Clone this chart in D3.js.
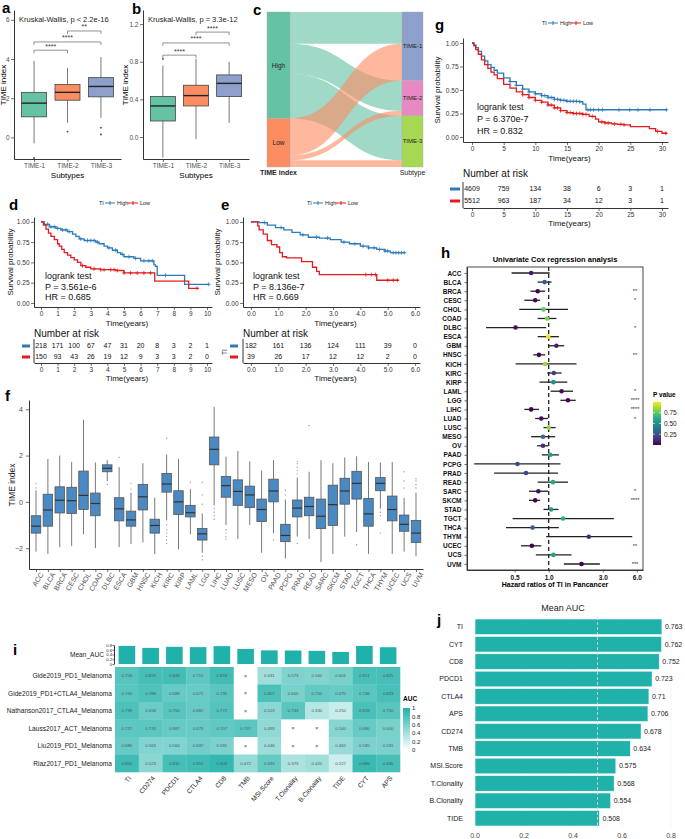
<!DOCTYPE html>
<html><head><meta charset="utf-8">
<script src="https://cdn.jsdelivr.net/npm/d3@7"></script>
<style>body{margin:0;background:#fff}svg{display:block}</style>
</head><body><svg id="c" width="685" height="839"></svg>
<script>
// ================= DATA =================
const subtypes = ["TIME-1","TIME-2","TIME-3"];
// [lower whisker, q1, median, q3, upper whisker]
const aStats = [[-0.3,1.05,1.75,2.3,3.9],[0.75,1.9,2.3,2.7,3.55],[1.0,2.07,2.6,3.05,4.1]];
const aOutliers = [[-1.05],[0.3],[0.5,0.15]];
const aBrackets = [[0,1,4.45,"****"],[0,2,4.87,"****"],[1,2,5.43,"**"]];
const aTicks = [0,2,4,6];
const bStats = [[-0.22,0.17,0.33,0.43,0.76],[-0.02,0.33,0.44,0.55,0.83],[0.15,0.43,0.57,0.66,0.8]];
const bOutliers = [[0.83],[],[]];
const bBrackets = [[0,1,0.87,"****"],[0,2,1.0,"****"],[1,2,1.115,"****"]];
const bTicks = [0,0.4,0.8,1.2];

const alluvialSources = ["High","Low"];
const alluvialTargets = ["TIME-1","TIME-2","TIME-3"];
const alluvialCounts = [[95,90,133],[110,15,20]];

const kmGroups = ["High","Low"];
// step points [time, survival]
const gHigh = [[0,1],[0.3,0.98],[0.6,0.95],[1,0.91],[1.5,0.86],[2,0.81],[2.5,0.77],[3,0.74],[3.5,0.71],[4,0.68],[5,0.63],[6,0.59],[7,0.55],[8,0.51],[9,0.48],[10,0.46],[11,0.44],[12,0.42],[13,0.40],[14,0.39],[15,0.38],[17,0.375],[17.5,0.35],[18,0.29],[30.8,0.29]];
const gLow = [[0,1],[0.3,0.97],[0.6,0.93],[1,0.88],[1.5,0.82],[2,0.77],[2.5,0.73],[3,0.69],[3.5,0.66],[4,0.62],[5,0.56],[6,0.52],[7,0.48],[8,0.45],[9,0.42],[10,0.39],[11,0.37],[12,0.34],[13,0.31],[14,0.28],[15,0.26],[16,0.25],[17.5,0.24],[18.5,0.22],[19.5,0.19],[20,0.16],[21,0.15],[22,0.14],[23,0.135],[24,0.13],[25,0.11],[28,0.09],[29,0.06],[30,0.04],[30.8,0.04]];
const gHighCensor = [6,7,8,9,10,11,11.5,12,12.5,13,13.5,14,14.5,15,15.5,16,16.5,17,18.3,18.7,19.2,20,20.6,23.2,24.9,26.2,28.1,30.7];
const gLowCensor = [8,9,10,11,12,12.5,13,13.5,14,15,15.5,16,16.5,17,17.5,18,19,20.5,21,21.5,22.5,23.5,24,29.3,30.6];
const gRiskTimes = [0,5,10,15,20,25,30];
const gRiskHigh = [4609,759,134,38,6,3,1];
const gRiskLow = [5512,963,187,34,12,3,1];
const gStats = ["logrank test","P = 6.370e-7","HR = 0.832"];

const dHigh = [[0,1],[0.2,0.97],[0.5,0.94],[0.9,0.92],[1.2,0.9],[1.6,0.88],[1.9,0.85],[2.1,0.82],[2.3,0.79],[2.6,0.77],[3.3,0.75],[3.5,0.73],[3.8,0.70],[4.0,0.68],[4.3,0.65],[4.6,0.62],[4.8,0.60],[5.0,0.57],[5.6,0.55],[6.0,0.52],[6.8,0.47],[6.9,0.45],[7.0,0.34],[8.65,0.23],[10.1,0.23]];
const dLow = [[0,1],[0.15,0.96],[0.3,0.91],[0.45,0.86],[0.6,0.82],[0.8,0.78],[1.0,0.73],[1.1,0.7],[1.25,0.66],[1.4,0.62],[1.6,0.59],[1.8,0.56],[2.0,0.53],[2.2,0.5],[2.4,0.46],[2.7,0.44],[3.0,0.42],[3.6,0.41],[4.5,0.4],[5.0,0.37],[6.85,0.27],[8.9,0.18],[9.5,0.18]];
const dHighCensor = [0.4,0.6,0.8,1.0,1.3,1.5,1.7,2.4,2.8,3.0,3.2,3.4,4.1,4.5,4.9,5.3,5.7,6.2,6.5,6.7,7.5,10.1];
const dLowCensor = [2.5,3.2,3.6,3.8,4.2,4.4,4.6,5.0,5.4,5.8,6.2,6.6,9.4];
const dRiskTimes = [0,1,2,3,4,5,6,7,8,9,10];
const dRiskHigh = [218,171,100,67,47,31,20,8,3,2,1];
const dRiskLow = [150,93,43,26,19,12,9,3,3,2,0];
const dStatsText = ["logrank test","P = 3.561e-6","HR = 0.685"];

const eHigh = [[0,1],[0.3,0.99],[0.6,0.96],[0.9,0.93],[1.2,0.9],[1.5,0.87],[1.8,0.84],[2.1,0.81],[2.5,0.8],[2.9,0.78],[3.3,0.75],[3.6,0.73],[4.0,0.7],[4.3,0.68],[4.6,0.66],[4.9,0.64],[5.1,0.62],[5.65,0.62]];
const eLow = [[0,1],[0.25,0.95],[0.3,0.9],[0.45,0.85],[0.6,0.77],[0.75,0.72],[0.95,0.69],[1.05,0.62],[1.15,0.57],[1.3,0.555],[1.85,0.51],[2.25,0.44],[2.4,0.39],[2.5,0.35],[4.6,0.28],[5.4,0.28]];
const eHighCensor = [0.5,1.1,1.9,2.4,2.8,3.4,3.8,4.1,4.3,4.5,4.7,4.9,5.0,5.2,5.3,5.4,5.5,5.6];
const eLowCensor = [4.2,4.4,4.55,5.0,5.2,5.35];
const eRiskTimes = [0,1,2,3,4,5,6];
const eRiskHigh = [182,161,136,124,111,39,0];
const eRiskLow = [39,26,17,12,12,2,0];
const eStatsText = ["logrank test","P = 8.136e-7","HR = 0.669"];

const cancers = ["ACC","BLCA","BRCA","CESC","CHOL","COAD","DLBC","ESCA","GBM","HNSC","KICH","KIRC","KIRP","LAML","LGG","LIHC","LUAD","LUSC","MESO","OV","PAAD","PCPG","PRAD","READ","SARC","SKCM","STAD","TGCT","THCA","THYM","UCEC","UCS","UVM"];
const fStats = [[-2.15,-1.35,-1.05,-0.6,0.5],[-2.25,-1.05,-0.35,0.33,1.85],[-1.95,-0.48,0.07,0.65,2.0],[-1.9,-0.5,0.05,0.63,1.72],[-1.4,-0.33,0.28,1.33,3.55],[-2.0,-0.6,-0.07,0.38,1.7],[0.9,1.3,1.45,1.6,1.8],[-1.95,-0.82,-0.3,0.18,1.5],[-1.82,-1.05,-0.78,-0.4,0.4],[-1.75,-0.35,0.22,0.75,1.67],[-2.25,-1.35,-1.02,-0.75,0.18],[-0.8,0.42,0.77,1.23,2.05],[-2.05,-0.55,0.0,0.48,1.85],[-1.4,-0.65,-0.47,-0.15,0.55],[-2.2,-1.65,-1.38,-1.15,-0.5],[-0.15,1.6,2.27,2.8,4.1],[-1.0,0.2,0.7,1.1,1.95],[-1.6,-0.15,0.45,0.95,2.2],[-1.0,-0.25,0.3,0.68,1.75],[-2.2,-0.85,-0.33,0.12,1.35],[-1.35,0.0,0.47,0.98,1.8],[-2.45,-1.72,-1.45,-0.97,0.1],[-1.5,-0.65,-0.27,0.08,1.05],[-1.6,-0.6,-0.2,0.2,1.3],[-2.6,-1.15,-0.62,0.12,1.8],[-2.25,-1.02,-0.12,0.72,1.67],[-1.5,-0.1,0.47,1.02,1.92],[-1.3,0.12,0.8,1.32,1.97],[-2.25,-1.05,-0.52,0.15,1.72],[-0.3,0.48,0.8,1.05,1.7],[-2.25,-0.82,-0.33,0.25,1.72],[-2.15,-1.27,-0.97,-0.57,0.17],[-2.35,-1.75,-1.35,-0.8,0.4]];
const fOutliers = [[0.6,0.8],[],[],[],[],[],[0.75],[1.92],[0.55,0.8],[],[],[2.75,-1.0,-1.2,-1.35,-1.5,-1.65,-1.8],[],[0.85],[-2.35,-2.5,0.3,0.85,-0.1],[-0.3,-0.45,-0.6,-0.75],[-1.2,-1.35,-1.5,-1.6],[],[],[],[-1.65],[0.3,0.5],[1.2,1.35,1.5,1.65,1.75,-1.8],[3.3],[],[],[],[-1.85],[],[-0.45,-0.6,-1.35],[],[0.6,0.9,1.3],[0.6,0.75,0.9,1.0]];
const fTicks = [-2,0,2,4];

const hHR =   [0.70,0.92,0.80,0.76,0.90,0.97,0.51,0.99,1.17,0.82,0.93,1.11,1.10,1.30,1.48,0.70,0.86,1.00,0.89,0.89,1.03,0.53,0.63,1.09,0.81,0.76,1.05,1.34,0.72,2.26,0.71,1.10,1.95];
const hLow =  [0.47,0.80,0.69,0.61,0.55,0.80,0.28,0.80,0.99,0.73,0.51,0.97,0.83,1.04,1.27,0.61,0.76,0.90,0.70,0.79,0.87,0.22,0.33,0.80,0.67,0.67,0.90,0.48,0.42,0.95,0.57,0.77,1.36];
const hHigh = [1.02,1.06,0.93,0.84,1.48,1.17,0.95,1.23,1.37,0.93,1.76,1.30,1.46,1.64,1.73,0.82,0.99,1.15,1.14,0.99,1.23,1.27,1.21,1.48,0.99,0.84,1.22,3.76,1.23,5.46,0.86,1.59,2.83];
const hP =    [0.07,0.3,0.005,0.02,0.75,0.8,0.03,0.97,0.08,0.004,0.85,0.18,0.5,0.03,0.00001,0.00002,0.03,0.82,0.35,0.12,0.58,0.22,0.2,0.6,0.04,0.00003,0.55,0.62,0.3,0.12,0.003,0.58,0.0005];
const hSig =  ["","","**","*","","","*","","","**","","","","*","****","****","*","","","","","","","","*","****","","","","","**","","***"];
const hTicks = [0.5,1,3,6];
const pTicks = [0.25,0.5,0.75];

const iRows = ["Gide2019_PD1_Melanoma","Gide2019_PD1+CTLA4_Melanoma","Nathanson2017_CTLA4_Melanoma","Lauss2017_ACT_Melanoma","Liu2019_PD1_Melanoma","Riaz2017_PD1_Melanoma"];
const iCols = ["TI","CD274","PDCD1","CTLA4","CD8","TMB","MSI.Score","T.Clonality","B.Clonality","TIDE","CYT","APS"];
const iValues = [
 [0.758,0.829,0.849,0.715,0.859,null,0.431,0.573,0.560,0.601,0.821,0.825],
 [0.740,0.788,0.688,0.671,0.736,null,0.807,0.600,0.700,0.675,0.746,0.823],
 [0.798,0.658,0.750,0.682,0.772,null,0.523,0.743,0.330,0.250,0.818,0.750],
 [0.727,0.733,0.687,0.673,0.707,0.737,0.493,null,null,0.540,0.680,0.600],
 [0.686,0.563,0.564,0.637,0.581,null,0.446,null,null,0.462,0.585,0.591],
 [0.865,0.523,0.830,0.852,0.909,0.472,0.693,0.373,0.420,0.227,0.886,0.836]];
const aucTicks = [0,0.2,0.4,0.6,0.8,1];

const jFeatures = ["TI","CYT","CD8","PDCD1","CTLA4","APS","CD274","TMB","MSI.Score","T.Clonality","B.Clonality","TIDE"];
const jMeanAUC = [0.763,0.762,0.752,0.723,0.71,0.706,0.678,0.634,0.575,0.568,0.554,0.508];
const jTicks = [0,0.2,0.4,0.6,0.8];

// ================= DRAWING =================
const svg = d3.select("#c");
const FONT = "'Liberation Sans', Arial, Helvetica, sans-serif";
svg.attr("font-family", FONT);
const set2 = ["#66C2A5","#FC8D62","#8DA0CB"];
const kmCol = ["#2b7bba","#e41a1c"];
const teal = "#20B2AA";

function T(g,x,y,s,o={}){
  const t=g.append("text").attr("x",x).attr("y",y).text(s)
    .attr("font-size",o.size||7).attr("fill",o.fill||"#000")
    .attr("text-anchor",o.anchor||"start");
  if(o.weight) t.attr("font-weight",o.weight);
  if(o.dy) t.attr("dy",o.dy);
  if(o.rotate!=null) t.attr("transform",`rotate(${o.rotate},${x},${y})`);
  return t;
}
function styleAxis(sel,o={}){
  sel.attr("font-family",FONT).attr("font-size",o.fs||7);
  sel.select(".domain").attr("stroke",o.noDomain?"none":"#000").attr("stroke-width",0.8);
  sel.selectAll(".tick line").attr("stroke",o.noTick?"none":"#333").attr("stroke-width",0.7);
  sel.selectAll(".tick text").attr("fill",o.col||"#4d4d4d");
  if(o.fw) sel.selectAll(".tick text").attr("font-weight",o.fw);
}

// panel letters
[["a",2,13],["b",132,14],["c",253,15],["g",435,30],["d",9,210],["e",221,210],["f",5,401],["h",441,258],["i",13,655],["j",437,625]]
 .forEach(([l,x,y])=>T(svg,x,y,l,{size:15,weight:"bold"}));

// ---------- a & b ----------
function boxPanel(cfg){
  const g=svg.append("g");
  const x=d3.scalePoint().domain(subtypes).range(cfg.xr).padding(0.6);
  const y=d3.scaleLinear().domain(cfg.yd).range([159,10]);
  g.append("g").attr("transform",`translate(${cfg.xr[0]},0)`)
    .call(d3.axisLeft(y).tickValues(cfg.ticks).tickFormat(cfg.fmt).tickSize(3).tickPadding(1.5).tickSizeOuter(0)).call(styleAxis,{fs:6.5});
  g.append("g").attr("transform","translate(0,159)")
    .call(d3.axisBottom(x).tickSize(3).tickPadding(1.5).tickSizeOuter(0)).call(styleAxis,{fs:6.5});
  const bw=25;
  cfg.stats.forEach((s,i)=>{
    const cx=x(subtypes[i]);
    g.append("line").attr("x1",cx).attr("x2",cx).attr("y1",y(s[0])).attr("y2",y(s[4])).attr("stroke","#555").attr("stroke-width",0.8);
    g.append("rect").attr("x",cx-bw/2).attr("width",bw).attr("y",y(s[3])).attr("height",y(s[1])-y(s[3]))
      .attr("fill",set2[i]).attr("stroke","#444").attr("stroke-width",0.8);
    g.append("line").attr("x1",cx-bw/2).attr("x2",cx+bw/2).attr("y1",y(s[2])).attr("y2",y(s[2])).attr("stroke","#222").attr("stroke-width",1.4);
    cfg.out[i].forEach(v=>g.append("circle").attr("cx",cx).attr("cy",y(v)).attr("r",0.9).attr("fill","#444"));
  });
  cfg.brackets.forEach(([i,j,v,lab])=>{
    const yy=y(v),x1=x(subtypes[i]),x2=x(subtypes[j]);
    g.append("path").attr("d",`M${x1},${yy+3}V${yy}H${x2}V${yy+3}`).attr("fill","none").attr("stroke","#777").attr("stroke-width",0.8);
    T(g,(x1+x2)/2,yy-1.5,lab,{size:7,anchor:"middle",fill:"#333"});
  });
  T(g,cfg.xr[0]+5,cfg.ty,cfg.test,{size:7.5,fill:"#222"});
  T(g,cfg.ylx,85,"TIME index",{size:8,anchor:"middle",rotate:-90,dy:"0.35em"});
  T(g,(x(subtypes[0])+x(subtypes[2]))/2,178,"Subtypes",{size:8,anchor:"middle"});
}
boxPanel({xr:[14,121],yd:[-1.1,6.5],ticks:aTicks,fmt:d3.format("d"),stats:aStats,out:aOutliers,brackets:aBrackets,test:"Kruskal-Wallis, p < 2.2e-16",ty:22,ylx:3});
boxPanel({xr:[143,249],yd:[-0.234,1.35],ticks:bTicks,fmt:d3.format(".1f"),stats:bStats,out:bOutliers,brackets:bBrackets,test:"Kruskal-Wallis, p = 3.3e-12",ty:22,ylx:125});

// ---------- c (alluvial) ----------
(function(){
  const g=svg.append("g");
  const total=d3.sum(alluvialCounts.flat());
  const yS=d3.scaleLinear().domain([0,total]).range([12,167]);
  const lx0=267,lx1=290,rx0=402,rx1=423,mx=(lx1+rx0)/2;
  const srcTot=alluvialCounts.map(r=>d3.sum(r));
  const tgtTot=alluvialTargets.map((t,j)=>d3.sum(alluvialCounts,r=>r[j]));
  const srcOff=[],tgtOff=[];let c=0;
  srcTot.forEach((v,i)=>{srcOff[i]=c;c+=v;});c=0;
  tgtTot.forEach((v,j)=>{tgtOff[j]=c;c+=v;});
  const sCur=srcOff.slice(),tCur=tgtOff.slice();
  const srcCol=["#66C2A5","#FC8D62"],tgtCol=["#8DA0CB","#E78AC3","#A6D854"];
  alluvialSources.forEach((s,i)=>{
    alluvialTargets.forEach((t,j)=>{
      const v=alluvialCounts[i][j];
      const a0=yS(sCur[i]),a1=yS(sCur[i]+v),b0=yS(tCur[j]),b1=yS(tCur[j]+v);
      sCur[i]+=v;tCur[j]+=v;
      g.append("path").attr("d",`M${lx1},${a0}C${mx},${a0} ${mx},${b0} ${rx0},${b0}L${rx0},${b1}C${mx},${b1} ${mx},${a1} ${lx1},${a1}Z`)
        .attr("fill",srcCol[i]).attr("fill-opacity",0.62);
    });
  });
  alluvialSources.forEach((s,i)=>{
    g.append("rect").attr("x",lx0).attr("width",lx1-lx0).attr("y",yS(srcOff[i])).attr("height",yS(srcTot[i])-yS(0))
      .attr("fill",srcCol[i]).attr("stroke","#aaa").attr("stroke-width",0.4);
    T(g,(lx0+lx1)/2,yS(srcOff[i]+srcTot[i]/2),s,{size:6.5,anchor:"middle",dy:"0.35em",fill:"#222"});
  });
  alluvialTargets.forEach((t,j)=>{
    g.append("rect").attr("x",rx0).attr("width",rx1-rx0).attr("y",yS(tgtOff[j])).attr("height",yS(tgtTot[j])-yS(0))
      .attr("fill",tgtCol[j]).attr("stroke","#aaa").attr("stroke-width",0.4);
    T(g,(rx0+rx1)/2,yS(tgtOff[j]+tgtTot[j]/2),t,{size:6,anchor:"middle",dy:"0.35em",fill:"#222"});
  });
  T(g,(lx0+lx1)/2,175,"TIME index",{size:7,anchor:"middle",weight:"bold",fill:"#222"});
  T(g,(rx0+rx1)/2,175,"Subtype",{size:7,anchor:"middle",fill:"#222"});
})();

// ---------- KM panels ----------
function survAt(pts,t){let s=1;for(const p of pts){if(p[0]<=t)s=p[1];else break;}return s;}
function km(cfg){
  const g=svg.append("g");
  const x=d3.scaleLinear().domain(cfg.xd).range(cfg.xr);
  const y=d3.scaleLinear().domain(cfg.yd).range(cfg.yr);
  g.append("g").attr("transform",`translate(${cfg.xr[0]},0)`)
    .call(d3.axisLeft(y).tickValues([0,0.25,0.5,0.75,1]).tickFormat(d3.format(".2f")).tickSize(3).tickPadding(1.5).tickSizeOuter(0)).call(styleAxis,{col:"#333",fs:6.5});
  g.append("g").attr("transform",`translate(0,${cfg.yr[0]})`)
    .call(d3.axisBottom(x).tickValues(cfg.times).tickSize(3).tickPadding(1).tickSizeOuter(0)).call(styleAxis,{col:"#333",fs:6.5});
  const line=d3.line().x(d=>x(d[0])).y(d=>y(d[1])).curve(d3.curveStepAfter);
  cfg.curves.forEach((c,k)=>{
    g.append("path").attr("d",line(c.pts)).attr("fill","none").attr("stroke",kmCol[k]).attr("stroke-width",1.3);
    c.censor.forEach(t=>{const s=survAt(c.pts,t);
      g.append("path").attr("d",`M${x(t)-2},${y(s)}h4M${x(t)},${y(s)-2}v4`).attr("stroke",kmCol[k]).attr("stroke-width",0.8);});
  });
  cfg.stats.forEach((s,i)=>T(g,x(0)+cfg.sdx,cfg.sy+i*cfg.sgap,s,{size:9,fill:"#111"}));
  T(g,(cfg.xr[0]+cfg.xr[1])/2+4,cfg.yr[0]+18.5,"Time(years)",{size:8,anchor:"middle",fill:"#111"});
  T(g,cfg.ylx,(cfg.yr[0]+cfg.yr[1])/2,"Survival probability",{size:8,anchor:"middle",rotate:-90,dy:"0.35em",fill:"#111"});
  // legend
  const lx=cfg.lx,ly=cfg.ly;
  T(g,lx,ly,"TI",{size:5.5,dy:"0.35em",fill:"#222"});
  [[lx+6,"High"],[lx+29,"Low"]].forEach(([xx,lab],k)=>{
    g.append("path").attr("d",`M${xx},${ly}h10M${xx+5},${ly-2}v4`).attr("stroke",kmCol[k]).attr("stroke-width",1);
    T(g,xx+12,ly,lab,{size:5.5,dy:"0.35em",fill:"#222"});
  });
  // risk table
  const r=cfg.risk;
  T(g,cfg.xr[0],r.titleY,"Number at risk",{size:10,fill:"#111"});
  g.append("line").attr("x1",cfg.xr[0]).attr("x2",cfg.xr[0]).attr("y1",r.rows[0]-7).attr("y2",r.axisY).attr("stroke","#000").attr("stroke-width",0.8);
  g.append("g").attr("transform",`translate(0,${r.axisY})`)
    .call(d3.axisBottom(x).tickValues(cfg.times).tickSize(3).tickPadding(1).tickSizeOuter(0)).call(styleAxis,{col:"#333",fs:6.5});
  [r.high,r.low].forEach((vals,k)=>{
    vals.forEach((v,i)=>T(g,x(cfg.times[i]),r.rows[k],v,{size:7,anchor:"middle",dy:"0.35em",fill:"#111"}));
    g.append("line").attr("x1",r.dashX[0]).attr("x2",r.dashX[1]).attr("y1",r.rows[k]).attr("y2",r.rows[k]).attr("stroke",kmCol[k]).attr("stroke-width",3);
  });
  T(g,(cfg.xr[0]+cfg.xr[1])/2+4,r.axisY+17.5,"Time(years)",{size:8,anchor:"middle",fill:"#111"});
  return g;
}
km({xd:[-1.42,30.95],xr:[463,668],yd:[-0.053,1.053],yr:[142,38],times:gRiskTimes,
  curves:[{pts:gHigh,censor:gHighCensor},{pts:gLow,censor:gLowCensor}],
  stats:gStats,sdx:5,sy:110,sgap:12,ylx:437,lx:542,ly:23,
  risk:{titleY:177,rows:[189,201],axisY:208,high:gRiskHigh,low:gRiskLow,dashX:[450,460]}});
km({xd:[-0.42,10.3],xr:[34,212],yd:[-0.05,1.06],yr:[307,217],times:dRiskTimes,
  curves:[{pts:dHigh,censor:dHighCensor},{pts:dLow,censor:dLowCensor}],
  stats:dStatsText,sdx:4,sy:279,sgap:10.5,ylx:10,lx:99,ly:203,
  risk:{titleY:337,rows:[346,357],axisY:363,high:dRiskHigh,low:dRiskLow,dashX:[22,30]}});
const eg=km({xd:[-0.29,6.18],xr:[243,420],yd:[-0.05,1.06],yr:[307,217],times:eRiskTimes,
  curves:[{pts:eHigh,censor:eHighCensor},{pts:eLow,censor:eLowCensor}],
  stats:eStatsText,sdx:2,sy:279,sgap:10.5,ylx:217,lx:307,ly:203,
  risk:{titleY:337,rows:[346,357],axisY:363,high:eRiskHigh,low:eRiskLow,dashX:[230,238]}});
T(eg,225,352,"TI",{size:6.5,anchor:"middle",rotate:-90,dy:"0.35em",fill:"#222"});

// ---------- f ----------
(function(){
  const g=svg.append("g");
  const x=d3.scalePoint().domain(cancers).range([29,423]).padding(0.59);
  const y=d3.scaleLinear().domain([-2.9,4.4]).range([569,400]);
  g.append("g").attr("transform","translate(29,0)").call(d3.axisLeft(y).tickValues(fTicks).tickSize(3).tickSizeOuter(0)).call(styleAxis);
  const xa=g.append("g").attr("transform","translate(0,569)").call(d3.axisBottom(x).tickSize(3).tickSizeOuter(0)).call(styleAxis);
  xa.selectAll(".tick text").attr("text-anchor","end").attr("dy",null).attr("y",5).attr("x",0)
    .attr("transform","rotate(-60) translate(-1,2)").attr("dominant-baseline","middle");
  const bw=9.5;
  fStats.forEach((s,i)=>{
    const cx=x(cancers[i]);
    g.append("line").attr("x1",cx).attr("x2",cx).attr("y1",y(s[0])).attr("y2",y(s[4])).attr("stroke","#555").attr("stroke-width",0.8);
    fOutliers[i].forEach(v=>g.append("circle").attr("cx",cx).attr("cy",y(v)).attr("r",0.7).attr("fill","#999"));
    g.append("rect").attr("x",cx-bw/2).attr("width",bw).attr("y",y(s[3])).attr("height",y(s[1])-y(s[3]))
      .attr("fill","#4a89c2").attr("stroke","#555").attr("stroke-width",0.8);
    g.append("line").attr("x1",cx-bw/2).attr("x2",cx+bw/2).attr("y1",y(s[2])).attr("y2",y(s[2])).attr("stroke","#333").attr("stroke-width",1.2);
  });
  T(g,12,485,"TIME index",{size:8.5,anchor:"middle",rotate:-90,dy:"0.35em",fill:"#222"});
})();

// ---------- h ----------
(function(){
  const g=svg.append("g");
  const x=d3.scaleLog().domain([0.19,6.8]).range([467,643]);
  const y=d3.scalePoint().domain(cancers).range([267,570]).padding(0.66);
  const col=d3.scaleSequential(d3.interpolateViridis).domain([0,1]);
  T(g,555,262,"Univariate Cox regression analysis",{size:7.5,anchor:"middle",weight:"bold"});
  g.append("g").attr("transform","translate(467,0)").call(d3.axisLeft(y).tickSize(2.5).tickSizeOuter(0)).call(styleAxis,{fs:6.5,col:"#111",fw:"bold"});
  g.append("g").attr("transform","translate(0,570)").call(d3.axisBottom(x).tickValues(hTicks).tickFormat(d3.format(".1f")).tickSize(2.5).tickSizeOuter(0)).call(styleAxis,{fs:6.5,col:"#111",fw:"bold"});
  g.append("rect").attr("x",467).attr("y",267).attr("width",176).attr("height",303).attr("fill","none").attr("stroke","#333").attr("stroke-width",0.9);
  g.append("line").attr("x1",x(1)).attr("x2",x(1)).attr("y1",267).attr("y2",570).attr("stroke","#222").attr("stroke-width",1.3).attr("stroke-dasharray","4,3");
  cancers.forEach((c,i)=>{
    const yy=y(c);
    g.append("line").attr("x1",x(hLow[i])).attr("x2",x(hHigh[i])).attr("y1",yy).attr("y2",yy).attr("stroke","#222").attr("stroke-width",1.3);
    g.append("circle").attr("cx",x(hHR[i])).attr("cy",yy).attr("r",2.3).attr("fill",col(hP[i]));
    if(hSig[i]) T(g,635,yy+2,hSig[i],{size:5.5,anchor:"middle",fill:"#222"});
  });
  T(g,555,587,"Hazard ratios of TI in Pancancer",{size:7,anchor:"middle",weight:"bold"});
  // colorbar
  const defs=svg.append("defs");
  const lg=defs.append("linearGradient").attr("id","vir").attr("x1",0).attr("x2",0).attr("y1",1).attr("y2",0);
  d3.range(0,1.01,0.1).forEach(t=>lg.append("stop").attr("offset",t).attr("stop-color",col(t)));
  const cy=d3.scaleLinear().domain([0,1]).range([445,402]);
  T(g,653,397,"P value",{size:6.5,weight:"bold"});
  g.append("rect").attr("x",653).attr("y",402).attr("width",8).attr("height",43).attr("fill","url(#vir)");
  pTicks.forEach(p=>{
    g.append("line").attr("x1",653).attr("x2",655).attr("y1",cy(p)).attr("y2",cy(p)).attr("stroke","#fff").attr("stroke-width",0.6);
    g.append("line").attr("x1",659).attr("x2",661).attr("y1",cy(p)).attr("y2",cy(p)).attr("stroke","#fff").attr("stroke-width",0.6);
    T(g,664,cy(p),d3.format(".2f")(p),{size:6.5,dy:"0.35em",fill:"#222"});
  });
})();

// ---------- i ----------
(function(){
  const g=svg.append("g");
  const x=d3.scaleBand().domain(iCols).range([115,400]);
  const y=d3.scaleBand().domain(iRows).range([667,772]);
  const col=d3.scaleLinear().domain([0,1]).range(["#ffffff",teal]);
  iRows.forEach((r,ri)=>{
    iCols.forEach((c,ci)=>{
      const v=iValues[ri][ci];
      g.append("rect").attr("x",x(c)).attr("y",y(r)).attr("width",x.bandwidth()+0.3).attr("height",y.bandwidth()+0.3).attr("fill",v==null?"#fff":col(v));
      T(g,x(c)+x.bandwidth()/2,y(r)+y.bandwidth()/2,v==null?"×":d3.format(".3f")(v),{size:v==null?6:4.3,anchor:"middle",dy:"0.35em",fill:"#555"});
    });
    T(g,112,y(r)+y.bandwidth()/2,r,{size:6.6,anchor:"end",dy:"0.35em",fill:"#222"});
  });
  // mean AUC bars
  const meanMap=new Map(jFeatures.map((f,i)=>[f,jMeanAUC[i]]));
  const by=d3.scaleLinear().domain([0,0.8]).range([664,645]);
  iCols.forEach(c=>{
    const v=meanMap.get(c),w=x.bandwidth()*0.7;
    g.append("rect").attr("x",x(c)+(x.bandwidth()-w)/2).attr("width",w).attr("y",by(v)).attr("height",by(0)-by(v)).attr("fill",teal);
  });
  const ba=g.append("g").attr("transform","translate(114,0)").call(d3.axisLeft(by).tickValues([0,0.2,0.4,0.6,0.8]).tickFormat(d3.format("~g")).tickSize(1.5).tickSizeOuter(0)).call(styleAxis,{fs:4.2,col:"#222"});
  ba.selectAll(".tick text").attr("x",-2);
  T(g,104,655,"Mean_AUC",{size:6.6,anchor:"end",dy:"0.35em",fill:"#222"});
  iCols.forEach(c=>{
    const cx=x(c)+x.bandwidth()/2+3;
    T(g,cx,777,c,{size:6.6,anchor:"end",dy:"0.35em",fill:"#222"}).attr("transform",`rotate(-50,${cx},777)`);
  });
  // legend
  const defs=svg.append("defs");
  const lg=defs.append("linearGradient").attr("id","aucg").attr("x1",0).attr("x2",0).attr("y1",1).attr("y2",0);
  lg.append("stop").attr("offset",0).attr("stop-color","#fff");
  lg.append("stop").attr("offset",1).attr("stop-color",teal);
  const ly=d3.scaleLinear().domain([0,1]).range([750,708]);
  T(g,403,701,"AUC",{size:6.5,weight:"bold"});
  g.append("rect").attr("x",403).attr("y",708).attr("width",7).attr("height",42).attr("fill","url(#aucg)");
  aucTicks.forEach(v=>T(g,412,ly(v),d3.format("~g")(v),{size:6,dy:"0.35em",fill:"#222"}));
})();

// ---------- j ----------
(function(){
  const g=svg.append("g");
  const x=d3.scaleLinear().domain([0,0.8]).range([475,671]);
  const y=d3.scaleBand().domain(jFeatures).range([617.25,827.75]).padding(0.1);
  jTicks.forEach(t=>g.append("line").attr("x1",x(t)).attr("x2",x(t)).attr("y1",617).attr("y2",828).attr("stroke","#f0f0f0").attr("stroke-width",0.6));
  jFeatures.forEach((f,i)=>{
    const v=jMeanAUC[i];
    g.append("rect").attr("x",x(0)).attr("y",y(f)).attr("width",x(v)-x(0)).attr("height",y.bandwidth()).attr("fill",teal).attr("stroke","#fff").attr("stroke-width",0.6);
    T(g,x(v)+3,y(f)+y.bandwidth()/2,String(v),{size:7,dy:"0.35em",fill:"#222"});
    T(g,463,y(f)+y.bandwidth()/2,f,{size:7,anchor:"end",dy:"0.35em",fill:"#222"});
  });
  g.append("line").attr("x1",x(0.5)).attr("x2",x(0.5)).attr("y1",617).attr("y2",828).attr("stroke","#ddd").attr("stroke-width",0.8).attr("stroke-dasharray","3,2");
  jTicks.forEach(t=>T(g,x(t),838,d3.format(".1f")(t),{size:7,anchor:"middle",fill:"#444"}));
  T(g,563,611,"Mean AUC",{size:9,anchor:"middle",fill:"#222"});
})();
</script></body></html>
